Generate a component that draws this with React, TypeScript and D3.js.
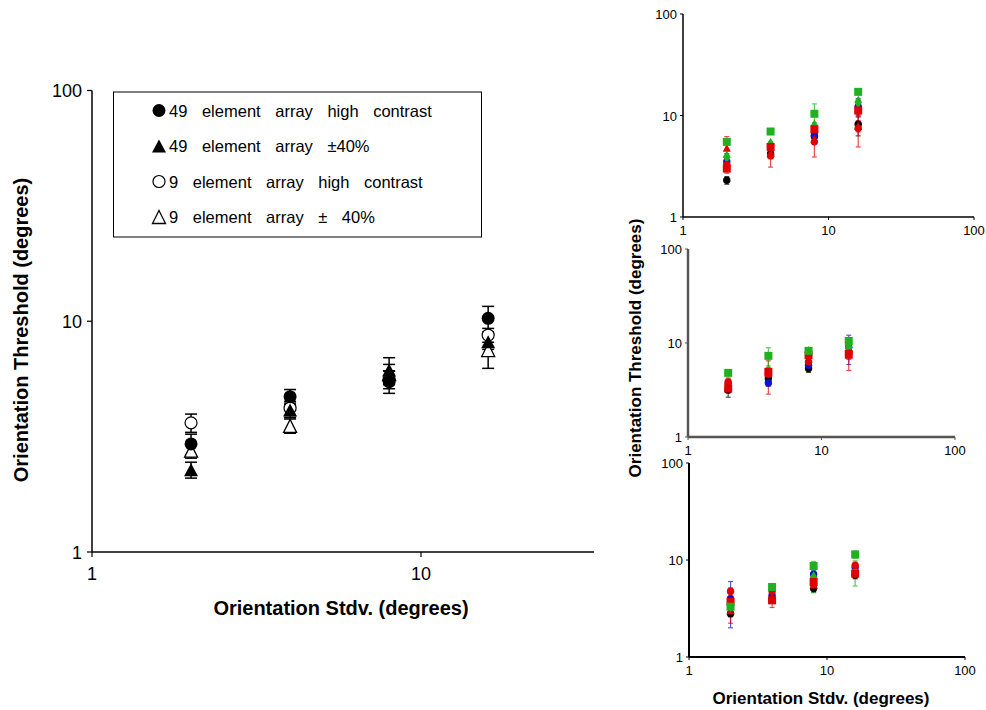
import React from 'react';
import * as d3 from 'd3';

// ---------- data ----------
const X_LEVELS = [2, 4, 8, 16];

const LEGEND_LABELS = [
  '49 element array high contrast',
  '49 element array ±40%',
  '9 element array high contrast',
  '9 element array ± 40%',
];

const mainHC49 = [2.94, 4.71, 5.47, 10.3];
const mainHC49Err = [0.3, 0.35, 0.6, 1.3];
const mainVar49 = [2.27, 4.12, 6.15, 8.15];
const mainVar49Err = [0.18, 0.3, 0.8, 0.6];
const mainHC9 = [3.63, 4.2, 5.6, 8.71];
const mainHC9Err = [0.33, 0.3, 0.5, 0.6];
const mainVar9 = [2.75, 3.52, 5.9, 7.5];
const mainVar9Err = [0.2, 0.25, 0.6, 1.25];

const MAIN_Y_TICKS = [1, 10, 100];
const MAIN_X_TICKS = [1, 10];
const SMALL_TICKS = [1, 10, 100];

const X_TITLE = 'Orientation Stdv. (degrees)';
const Y_TITLE = 'Orientation Threshold (degrees)';

// small panels: rows = black circle, blue circle, red square, red circle, green square, green diamond, red triangle
const p1Values = [
  [2.3, 4.2, 6.2, 8.2],
  [3.5, 5.0, 6.4, 12.2],
  [3.0, 4.9, 7.3, 11.2],
  [3.27, 4.0, 5.5, 7.5],
  [5.5, 6.95, 10.4, 17.1],
  [3.9, 5.2, 7.9, 13.5],
  [4.8, 4.3, 5.9, 7.9],
];
const p1Errors = [
  [0.2, 0.3, 0.5, 1.9],
  [0.7, 0.4, 1.0, 2.5],
  [0.3, 0.4, 0.8, 1.5],
  [0.3, 0.9, 1.6, 2.6],
  [0.4, 0.3, 2.6, 0.8],
  [0.3, 0.3, 0.6, 1.0],
  [1.4, 0.3, 0.6, 1.0],
];
const p2Values = [
  [3.15, 4.19, 5.36, 8.0],
  [3.7, 3.76, 5.8, 9.0],
  [3.28, 4.93, 7.42, 7.6],
  [3.85, 4.66, 6.3, 7.8],
  [4.81, 7.3, 8.25, 10.5],
  [3.6, 5.0, 7.9, 8.96],
  [3.5, 4.8, 6.8, 7.5],
];
const p2Errors = [
  [0.5, 0.3, 0.5, 0.6],
  [0.4, 0.3, 0.5, 3.1],
  [0.3, 0.5, 0.8, 2.5],
  [0.4, 1.8, 1.2, 0.8],
  [0.3, 1.6, 0.4, 0.8],
  [0.3, 0.4, 0.5, 1.0],
  [0.4, 0.5, 0.6, 0.8],
];
const p3Values = [
  [2.8, 3.9, 5.07, 7.0],
  [4.0, 4.33, 7.13, 8.35],
  [3.69, 3.84, 5.93, 7.24],
  [4.76, 4.76, 5.8, 8.81],
  [3.3, 5.27, 8.67, 11.4],
  [3.4, 5.0, 6.6, 7.6],
  [3.03, 4.0, 5.6, 7.8],
];
const p3Errors = [
  [0.2, 0.3, 0.4, 0.6],
  [2.0, 0.4, 0.6, 0.8],
  [0.4, 0.6, 0.6, 0.7],
  [0.4, 0.4, 0.5, 0.7],
  [0.5, 0.4, 1.0, 1.0],
  [0.5, 0.4, 2.0, 2.2],
  [0.8, 0.4, 0.5, 0.6],
];

// ---------- styles ----------
const SMALL_STYLES = [
  { color: '#000000', shape: 'circle' },
  { color: '#1010d0', shape: 'circle' },
  { color: '#e00000', shape: 'square' },
  { color: '#e00000', shape: 'circle' },
  { color: '#20b020', shape: 'square' },
  { color: '#20b020', shape: 'diamond' },
  { color: '#e00000', shape: 'triangle' },
];
const SMALL_DRAW_ORDER = [0, 1, 6, 5, 3, 2, 4];

const FONT = 'Liberation Sans, Arial, Helvetica, sans-serif';

function triPath(cx: number, cy: number, w: number, h: number) {
  const p = d3.path();
  p.moveTo(cx, cy - h / 2);
  p.lineTo(cx + w / 2, cy + h / 2);
  p.lineTo(cx - w / 2, cy + h / 2);
  p.closePath();
  return p.toString();
}

function MainChart() {
  const x = d3.scaleLog().domain([1, 10]).range([92, 421]);
  const y = d3.scaleLog().domain([1, 100]).range([552, 90.5]);
  const xEnd = x.invert(594);

  const series = [
    { v: mainHC9, e: mainHC9Err, kind: 'openCircle' },
    { v: mainVar9, e: mainVar9Err, kind: 'openTri' },
    { v: mainVar49, e: mainVar49Err, kind: 'fillTri' },
    { v: mainHC49, e: mainHC49Err, kind: 'fillCircle' },
  ];

  const marker = (kind: string, cx: number, cy: number, key: string) => {
    if (kind === 'fillCircle') return <circle key={key} cx={cx} cy={cy} r={6.5} fill="#000" />;
    if (kind === 'openCircle') return <circle key={key} cx={cx} cy={cy} r={6} fill="#fff" stroke="#000" strokeWidth={1.2} />;
    if (kind === 'fillTri') return <path key={key} d={triPath(cx, cy, 14, 13)} fill="#000" />;
    return <path key={key} d={triPath(cx, cy, 13, 13)} fill="#fff" stroke="#000" strokeWidth={1.3} />;
  };

  const legendKinds = ['fillCircle', 'fillTri', 'openCircle', 'openTri'];
  const legendY = d3.scaleLinear().domain([0, 3]).range([110.5, 217]);

  return (
    <g fontFamily={FONT}>
      {/* axes */}
      <line x1={x(1)} x2={x(xEnd)} y1={y(1)} y2={y(1)} stroke="#000" strokeWidth={1.5} />
      <line x1={x(1)} x2={x(1)} y1={y(1)} y2={y(100)} stroke="#000" strokeWidth={1.5} />
      {MAIN_Y_TICKS.map((t) => (
        <g key={'yt' + t}>
          <line x1={x(1) - 5} x2={x(1)} y1={y(t)} y2={y(t)} stroke="#000" strokeWidth={1.2} />
          <text x={x(1) - 10} y={y(t) + 6.5} textAnchor="end" fontSize={18}>{t}</text>
        </g>
      ))}
      {MAIN_X_TICKS.map((t) => (
        <g key={'xt' + t}>
          <line x1={x(t)} x2={x(t)} y1={y(1)} y2={y(1) + 5} stroke="#000" strokeWidth={1.2} />
          <text x={x(t)} y={y(1) + 28} textAnchor="middle" fontSize={18}>{t}</text>
        </g>
      ))}
      <text x={341} y={615} textAnchor="middle" fontSize={20} fontWeight="bold">{X_TITLE}</text>
      <text transform={`translate(28,330) rotate(-90)`} textAnchor="middle" fontSize={20} fontWeight="bold">{Y_TITLE}</text>

      {/* error bars */}
      {series.map((s, si) =>
        X_LEVELS.map((xv, i) => {
          const cx = x(xv);
          const top = y(s.v[i] + s.e[i]);
          const bot = y(s.v[i] - s.e[i]);
          return (
            <g key={`e${si}-${i}`} stroke="#000" strokeWidth={1.5}>
              <line x1={cx} x2={cx} y1={top} y2={bot} />
              <line x1={cx - 6} x2={cx + 6} y1={top} y2={top} />
              <line x1={cx - 6} x2={cx + 6} y1={bot} y2={bot} />
            </g>
          );
        })
      )}
      {series.map((s, si) => X_LEVELS.map((xv, i) => marker(s.kind, x(xv), y(s.v[i]), `m${si}-${i}`)))}

      {/* legend */}
      <rect x={113.5} y={92} width={368} height={145} fill="#fff" stroke="#000" strokeWidth={1} />
      {LEGEND_LABELS.map((lab, i) => (
        <g key={'lg' + i}>
          {marker(legendKinds[i], 159, legendY(i), 'lm' + i)}
          <text x={169} y={legendY(i) + 6} fontSize={16.5} style={{ wordSpacing: '10px' }}>{lab}</text>
        </g>
      ))}
    </g>
  );
}

type PanelProps = {
  xr: [number, number];
  yr: [number, number];
  values: number[][];
  errors: number[][];
  axisColor: string;
  axisWidth: number;
};

function smallMarker(shape: string, color: string, cx: number, cy: number, key: string) {
  if (shape === 'square') return <rect key={key} x={cx - 4} y={cy - 4} width={8} height={8} fill={color} />;
  if (shape === 'diamond')
    return <path key={key} d={d3.symbol().type(d3.symbolDiamond).size(50)() || ''} transform={`translate(${cx},${cy})`} fill={color} />;
  if (shape === 'triangle') return <path key={key} d={triPath(cx, cy, 8, 8)} fill={color} />;
  return <circle key={key} cx={cx} cy={cy} r={3.7} fill={color} />;
}

function SmallPanel({ xr, yr, values, errors, axisColor, axisWidth }: PanelProps) {
  const x = d3.scaleLog().domain([1, 100]).range(xr);
  const y = d3.scaleLog().domain([1, 100]).range(yr);
  return (
    <g fontFamily={FONT}>
      {values.map((row, si) =>
        X_LEVELS.map((xv, i) => {
          const cx = x(xv);
          const top = y(row[i] + errors[si][i]);
          const bot = y(Math.max(row[i] - errors[si][i], 1.01));
          const c = SMALL_STYLES[si].color;
          return (
            <g key={`se${si}-${i}`} stroke={c} strokeWidth={1.2} opacity={0.7}>
              <line x1={cx} x2={cx} y1={top} y2={bot} />
              <line x1={cx - 2.5} x2={cx + 2.5} y1={top} y2={top} />
              <line x1={cx - 2.5} x2={cx + 2.5} y1={bot} y2={bot} />
            </g>
          );
        })
      )}
      {SMALL_DRAW_ORDER.map((si) =>
        X_LEVELS.map((xv, i) =>
          smallMarker(SMALL_STYLES[si].shape, SMALL_STYLES[si].color, x(xv), y(values[si][i]), `sm${si}-${i}`)
        )
      )}
      <line x1={x(1)} x2={x(100)} y1={y(1)} y2={y(1)} stroke={axisColor} strokeWidth={axisWidth} />
      <line x1={x(1)} x2={x(1)} y1={y(1)} y2={y(100)} stroke={axisColor} strokeWidth={axisWidth} />
      {SMALL_TICKS.map((t) => (
        <g key={'syt' + t}>
          <line x1={x(1) - 3} x2={x(1)} y1={y(t)} y2={y(t)} stroke={axisColor} strokeWidth={1} />
          <text x={x(1) - 6} y={y(t) + 5} textAnchor="end" fontSize={13}>{t}</text>
        </g>
      ))}
      {SMALL_TICKS.map((t) => (
        <g key={'sxt' + t}>
          <line x1={x(t)} x2={x(t)} y1={y(1)} y2={y(1) + 3} stroke={axisColor} strokeWidth={1} />
          <text x={x(t)} y={y(1) + 18} textAnchor="middle" fontSize={13}>{t}</text>
        </g>
      ))}
    </g>
  );
}

export default function App() {
  return (
    <svg
      width={986}
      height={710}
      style={{ position: 'absolute', left: 0, top: 0, background: '#fff' }}
      xmlns="http://www.w3.org/2000/svg"
    >
      <rect x={0} y={0} width={986} height={710} fill="#fff" />
      <MainChart />
      <SmallPanel xr={[683, 974]} yr={[217, 14]} values={p1Values} errors={p1Errors} axisColor="#000" axisWidth={1.5} />
      <SmallPanel xr={[688, 955]} yr={[437, 249]} values={p2Values} errors={p2Errors} axisColor="#555" axisWidth={2.5} />
      <SmallPanel xr={[689, 965]} yr={[657, 463]} values={p3Values} errors={p3Errors} axisColor="#000" axisWidth={2} />
      <text x={821} y={704} textAnchor="middle" fontSize={17} fontWeight="bold" fontFamily={FONT}>{X_TITLE}</text>
      <text transform="translate(641,348) rotate(-90)" textAnchor="middle" fontSize={17} fontWeight="bold" fontFamily={FONT}>{Y_TITLE}</text>
    </svg>
  );
}
